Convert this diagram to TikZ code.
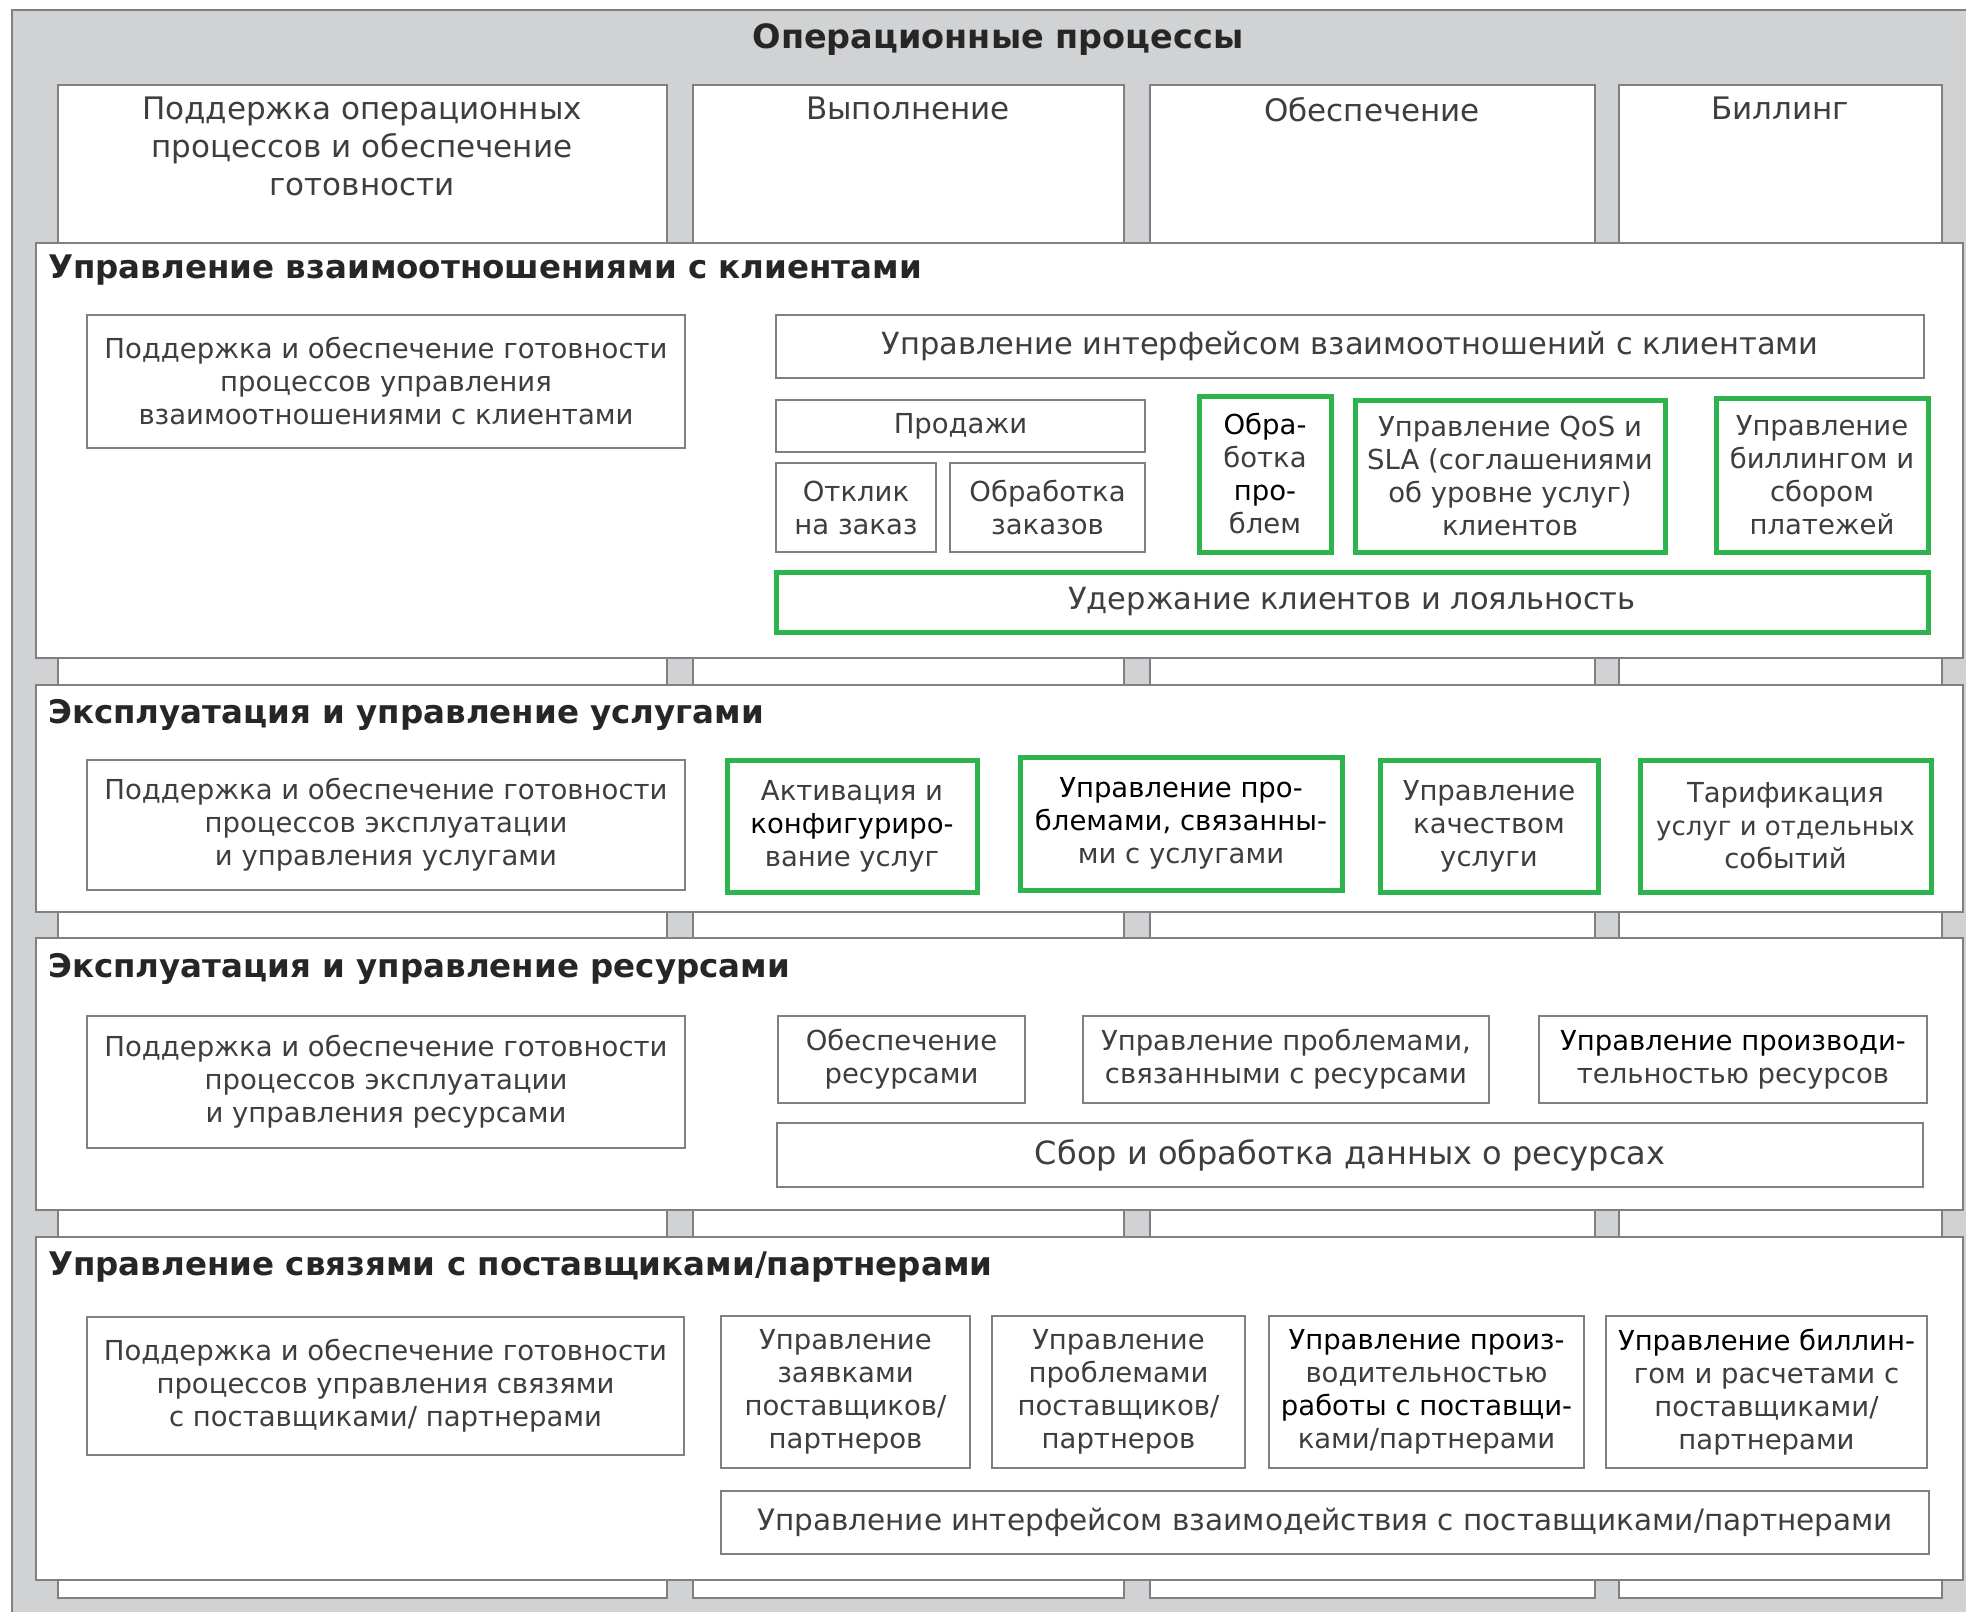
\documentclass[tikz,border=0pt]{standalone}
\usepackage{fontspec}
\setmainfont{DejaVu Sans}
\usetikzlibrary{%
        positioning}
\definecolor{panelgrey}{RGB}{209,210,212}
\definecolor{rulegrey}{RGB}{128,128,130}
\definecolor{inkgrey}{RGB}{62,62,62}
\definecolor{keygreen}{RGB}{46,180,76}
\newcommand{\darkline}[1]{\textcolor{black}{#1}}
\tikzset{%
    heading/.style={font=\bfseries\fontsize{32.5}{38}\selectfont,
        text=black!85, inner sep=0pt},
    colhead/.style={font=\fontsize{31}{38}\selectfont, text=inkgrey,
        align=center, inner sep=0pt},
    box/.style 2 args={minimum width=#1, minimum height=#2},
    proc/.style={draw=rulegrey, line width=2pt, fill=white,
        inner sep=0pt, align=center, text=inkgrey,
        font=\fontsize{27.5}{33}\selectfont},
    wide/.style={font=\fontsize{30.5}{36}\selectfont},
    keyproc/.style={proc, draw=keygreen, line width=5pt},
    strip/.style={draw=rulegrey, line width=2pt, fill=white}
}

\begin{document}
\begin{tikzpicture}[x=1pt, y=-1pt]

    \useasboundingbox (0, 0) rectangle (1966, 1612);
    \fill[panelgrey] (12, 10) rectangle (1966, 1612);
    \draw[rulegrey, line width=2pt] (1966, 10) -- (12, 10) -- (12, 1612);
    \node[heading, font=\bfseries\fontsize{33.5}{38}\selectfont]
        (opstitle) at (998, 40) {Операционные процессы};

    % vertical groups, partly hidden by the layers
    \foreach \xa/\xb in {58/667, 693/1124, 1150/1595, 1619/1942}{%
        \draw[strip] (\xa, 85) rectangle (\xb, 1598);
    };
    \node[colhead, anchor=north] (colsup) at (362, 97)
        {Поддержка операционных\\процессов и обеспечение\\готовности};
    \node[colhead, anchor=north] (colfulfil) at (908, 97) {Выполнение};
    \node[colhead, anchor=north] (colassure) at (1372, 97) {Обеспечение};
    \node[colhead, anchor=north] (colbill) at (1780, 97) {Биллинг};

    % horizontal layers
    \foreach \ya/\yb in {243/658, 685/912, 938/1210, 1237/1580}{%
        \draw[strip] (36, \ya) rectangle (1963, \yb);
    };

    % customer relationship management
    \node[heading, anchor=west] (crmtitle) at (48, 270)
        {Управление взаимоотношениями с клиентами};
    \node[proc, box={598}{133}] (crmsup) at (386, 381.5)
        {Поддержка и обеспечение готовности\\процессов управления\\взаимоотношениями с клиентами};
    \node[proc, wide, box={1148}{63}] (crmiface) at (1350, 346.5)
        {Управление интерфейсом взаимоотношений с клиентами};
    \node[proc, box={369}{52}] (sales) at (960.5, 426) {Продажи};
    \node[proc, box={160}{89}] (ordresp) at (856, 507.5) {Отклик\\на заказ};
    \node[proc, box={195}{89}] (ordproc) at (1047.5, 507.5) {Обработка\\заказов};
    \node[keyproc, box={132}{156}] (probh) at (1265, 474)
        {\darkline{Обра-}\\ботка\\\darkline{про-}\\блем};
    \node[keyproc, box={310}{152}] (qos) at (1510, 476)
        {Управление QoS и\\SLA (соглашениями\\об уровне услуг)\\клиентов};
    \node[keyproc, box={212}{154}] (custbill) at (1822, 475)
        {Управление\\биллингом и\\сбором\\платежей};
    \node[keyproc, wide, box={1152}{60}] (retain) at (1352, 602)
        {Удержание клиентов и лояльность};

    % service management and operations
    \node[heading, anchor=west] (svctitle) at (48, 715)
        {Эксплуатация и управление услугами};
    \node[proc, box={598}{130}] (svcsup) at (386, 825)
        {Поддержка и обеспечение готовности\\процессов эксплуатации\\и управления услугами};
    \node[keyproc, box={250}{132}] (activ) at (852, 826)
        {Активация и\\\darkline{конфигуриро-}\\вание услуг};
    \node[keyproc, box={322}{133}] (svcprob) at (1181, 823.5)
        {\darkline{Управление про-}\\\darkline{блемами, связанны-}\\ми с услугами};
    \node[keyproc, box={218}{132}] (svcqual) at (1489, 826)
        {Управление\\качеством\\услуги};
    \node[keyproc, box={291}{132}] (rating) at (1785.5, 826)
        {Тарификация\\{\fontsize{26}{33}\selectfont услуг и отдельных}\\событий};

    % resource management and operations
    \node[heading, anchor=west] (restitle) at (48, 969)
        {Эксплуатация и управление ресурсами};
    \node[proc, box={598}{132}] (ressup) at (386, 1082)
        {Поддержка и обеспечение готовности\\процессов эксплуатации\\и управления ресурсами};
    \node[proc, box={247}{87}] (resprov) at (901.5, 1059.5)
        {Обеспечение\\ресурсами};
    \node[proc, box={406}{87}] (resprob) at (1286, 1059.5)
        {Управление проблемами,\\связанными с ресурсами};
    \node[proc, box={388}{87}] (resperf) at (1733, 1059.5)
        {\darkline{Управление производи-}\\тельностью ресурсов};
    \node[proc, wide, box={1146}{64}, font=\fontsize{32}{36}\selectfont]
        (resdata) at (1350, 1155) {Сбор и обработка данных о ресурсах};

    % supplier/partner relationship management
    \node[heading, anchor=west] (spmtitle) at (48, 1267)
        {Управление связями с поставщиками/партнерами};
    \node[proc, box={597}{138}] (spmsup) at (385.5, 1386)
        {Поддержка и обеспечение готовности\\процессов управления связями\\с поставщиками/ партнерами};
    \node[proc, box={249}{152}] (spmorder) at (845.5, 1392)
        {Управление\\заявками\\поставщиков/\\партнеров};
    \node[proc, box={253}{152}] (spmprob) at (1118.5, 1392)
        {Управление\\проблемами\\поставщиков/\\партнеров};
    \node[proc, box={315}{152}] (spmperf) at (1426.5, 1392)
        {\darkline{Управление произ-}\\водительностью\\\darkline{работы с поставщи-}\\ками/партнерами};
    \node[proc, box={321}{152}] (spmbill) at (1766.5, 1392)
        {\darkline{Управление биллин-}\\гом и расчетами с\\поставщиками/\\партнерами};
    \node[proc, box={1208}{63}, font=\fontsize{29.5}{36}\selectfont]
        (spmiface) at (1325, 1522.5)
        {Управление интерфейсом взаимодействия с поставщиками/партнерами};

\end{tikzpicture}
\end{document}
